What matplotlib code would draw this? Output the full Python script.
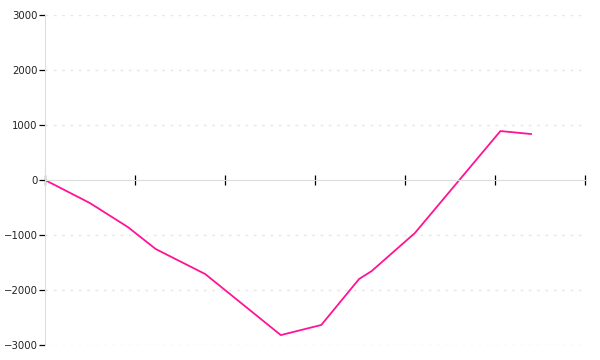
import matplotlib
matplotlib.use("Agg")
import matplotlib.pyplot as plt

# values
xs = [0, 5, 9.2, 12.3, 17.8, 26.2, 30.7, 34.9, 36.3, 41.1, 50.6, 54.0]
ys = [0, -420, -855, -1255, -1710, -2820, -2636, -1800, -1655, -964, 890, 836]
yticks = [-3000, -2000, -1000, 0, 1000, 2000, 3000]
xticks = [0, 10, 20, 30, 40, 50, 60]

fig = plt.figure(figsize=(6, 3.6), dpi=100)
ax = fig.add_axes([0.075, 0.0417, 0.9, 0.9166])

ax.plot(xs, ys, color="#ff1493", lw=1.3, solid_joinstyle="round")

ax.set_xlim(0, 60)
ax.set_ylim(-3000, 3000)
ax.set_yticks(yticks)
ax.set_xticks(xticks)
ax.set_xticklabels([])
for y in yticks:
    if y != 0:
        ax.axhline(y, color="#e6e6e6", lw=1, ls=(0, (2, 4)), zorder=0)

for s in ["top", "right"]:
    ax.spines[s].set_visible(False)
ax.spines["bottom"].set_position(("data", 0))
ax.spines["bottom"].set_color("#dddddd")
ax.spines["left"].set_color("#dddddd")
ax.tick_params(axis="y", length=4.3, width=0.9, color="black", pad=1,
               labelsize=7.3, labelcolor="#222222")
ax.tick_params(axis="x", direction="inout", length=7, width=0.9, color="black")

fig.savefig("out.png", dpi=100)
